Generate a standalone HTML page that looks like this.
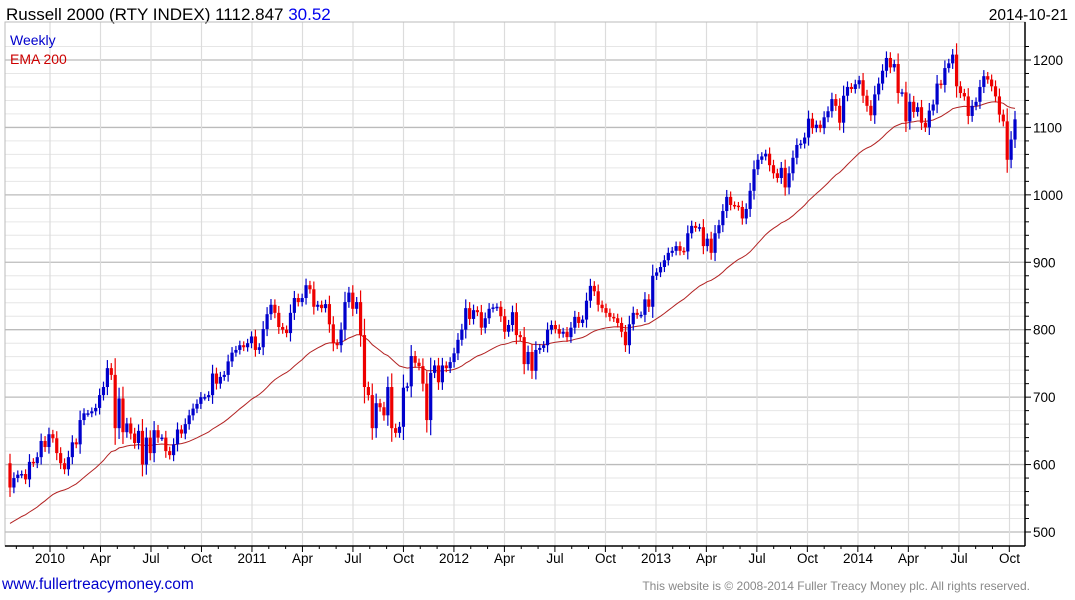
<!DOCTYPE html>
<html><head><meta charset="utf-8">
<style>
body{margin:0;background:#fff;font-family:"Liberation Sans",sans-serif;}
#wrap{position:relative;width:1075px;height:600px;overflow:hidden;}
</style></head>
<body>
<div id="wrap">
<svg id="chart" width="1075" height="600">
  <text x="6" y="20" font-size="17" fill="#000">Russell 2000 (RTY INDEX) 1112.847 <tspan fill="#0000ee">30.52</tspan></text>
  <text x="1068" y="20" font-size="15.5" fill="#000" text-anchor="end">2014-10-21</text>
  <g id="grid"></g>
  <g id="ema"></g>
  <g id="candles"></g>
  <g id="axes"></g>
  <text x="10" y="45" font-size="14" fill="#0000cc">Weekly</text>
  <text x="10" y="64" font-size="14" fill="#cc0000">EMA 200</text>
  <text x="2" y="589" font-size="15.5" fill="#0000cc">www.fullertreacymoney.com</text>
  <text x="1030" y="590" font-size="12" fill="#888" text-anchor="end">This website is © 2008-2014 Fuller Treacy Money plc. All rights reserved.</text>
</svg>
</div>
<script>
const closes = [566,580,585,586,578,604,602,611,635,626,645,639,617,602,593,611,633,630,666,676,676,679,684,703,715,743,733,654,698,648,661,646,632,650,600,640,617,
651,640,640,620,614,630,652,646,660,673,683,690,700,700,703,735,720,730,733,753,766,770,777,774,780,790,770,
774,801,823,837,825,804,800,795,825,847,841,847,866,860,834,837,832,838,808,780,777,800,841,855,831,841,792,715,703,654,691,685,673,715,654,647,656,714,716,761,751,746,720,666,736,747,722,747,743,752,765,785,800,832,816,829,826,
803,817,831,833,834,820,797,807,826,792,789,749,767,739,770,773,777,800,807,801,794,797,789,803,819,810,815,843,865,857,837,832,825,819,817,810,797,777,808,825,822,822,845,834,880,885,893,903,
914,917,924,917,916,943,954,951,952,924,935,914,943,955,976,997,985,984,982,965,979,1006,1038,1052,1057,1061,1044,1032,1025,1040,1011,1032,1055,1074,
1076,1085,1113,1099,1104,1099,1115,1124,1142,1132,1107,1147,1160,1157,1164,1170,1147,1132,1118,1149,1165,1184,1203,1189,1194,1151,1152,1109,1138,1123,1130,1107,1100,1125,1134,1165,1163,1188,1195,1208,1161,1151,1146,1117,1132,1138,1160,1176,1171,1161,1146,1119,1109,1052,1082,1112];
const firstOpen = 602;
const yTicks = [500,600,700,800,900,1000,1100,1200];
const xLabels = ["2010","Apr","Jul","Oct","2011","Apr","Jul","Oct","2012","Apr","Jul","Oct","2013","Apr","Jul","Oct","2014","Apr","Jul","Oct"];
const emaSeed = 510;

const NS="http://www.w3.org/2000/svg";
const L=5,R=1025,T=22,B=546;
const xStart=10,xEnd=1015;
function yS(v){return 532-(v-500)*0.6743;}
function xS(i){return xStart+i*(xEnd-xStart)/(closes.length-1);}
function qx(q){return 50+(q-1)*50.5;}
function mk(tag,attrs,parent){const e=document.createElementNS(NS,tag);for(const k in attrs)e.setAttribute(k,attrs[k]);parent.appendChild(e);return e;}
const grid=document.getElementById('grid'),axes=document.getElementById('axes'),cg=document.getElementById('candles'),eg=document.getElementById('ema');
for(let v=500;v<=1220;v+=20){
  const y=yS(v);
  const l=mk('line',{x1:L,x2:R,y1:y,y2:y,stroke:v%100===0?'#bbb':'#e6e6e6','stroke-width':v%100===0?1.3:1},grid);
  
  
}
for(let q=0;q<=21;q++){
  const x=qx(q);
  if(x<L||x>R)continue;
  const l=mk('line',{x1:x,x2:x,y1:T,y2:B,stroke:'#dcdcdc','stroke-width':1.2},grid);
  
  
}
const fr=mk('rect',{x:L,y:T,width:R-L,height:B-T,fill:'none',stroke:'#bbb','stroke-width':1},axes);


const ra=mk('line',{x1:R,x2:R,y1:T,y2:B,stroke:'#000','stroke-width':1.5},axes);


const ba=mk('line',{x1:L,x2:R,y1:B,y2:B,stroke:'#000','stroke-width':1.5},axes);


for(let v=500;v<=1220;v+=20){
  const y=yS(v);
  const t=mk('line',{x1:R,x2:R+(v%100===0?6:4),y1:y,y2:y,stroke:'#000'},axes);
  
  
}
yTicks.forEach(v=>{
  const t=mk('text',{x:1033,y:yS(v)+5,'font-size':13.5,fill:'#000'},axes);
  t.textContent=v;
  
  
});
for(let m=-3;m<=58;m++){
  const x=50+m*16.83;
  if(x<L||x>R)continue;
  const t=mk('line',{x1:x,x2:x,y1:B,y2:B+(m%3===0?6:3),stroke:'#000'},axes);
  
  
}
xLabels.forEach((s,i)=>{
  const t=mk('text',{x:50+i*50.5,y:563,'font-size':13.5,fill:'#000','text-anchor':'middle'},axes);
  t.textContent=s;
  
  
});
let e=emaSeed,pts=[];
closes.forEach((c,i)=>{e=e+(c-e)*0.05;pts.push(xS(i).toFixed(1)+','+yS(e).toFixed(1));});
const pl=mk('polyline',{points:pts.join(' '),fill:'none',stroke:'#b22222','stroke-width':1},eg);


closes.forEach((c,i)=>{
  const o=i===0?firstOpen:closes[i-1];
  const up=c>=o;
  const col=up?'#0000cc':'#ee0000';
  const top=Math.max(o,c),bot=Math.min(o,c);
  const w=Math.abs(c-o)*0.25+5;
  const x=xS(i);
  const g=mk('g',{},cg);
  
  
  mk('line',{x1:x,x2:x,y1:yS(top+w),y2:yS(bot-w),stroke:col,'stroke-width':1.2},g);
  const h=Math.max(1.5,yS(bot)-yS(top));
  mk('rect',{x:x-1.6,y:yS(top),width:3.2,height:h,fill:col},g);
});
</script>
</body></html>
